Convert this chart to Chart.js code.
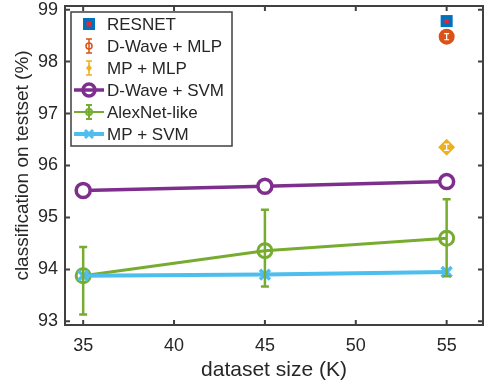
<!DOCTYPE html>
<html>
<head>
<meta charset="utf-8">
<script src="https://cdn.jsdelivr.net/npm/chart.js@4"></script>
<style>
  html, body { margin: 0; padding: 0; background: #fff; }
  #wrap { width: 484px; height: 383px; }
</style>
</head>
<body>
<div id="wrap"><canvas id="c" width="484" height="383"></canvas></div>
<script>
// dataset sizes (K)
const sizes = [35, 45, 55];
const xTicks = [35, 40, 45, 50, 55];
const yTicks = [93, 94, 95, 96, 97, 98, 99];

// single points at 55K
const resnet = [98.78];
const dwaveMlp = [98.48];
const dwaveMlpErr = [0.06];
const mpMlp = [96.35];
const mpMlpErr = [0.06];

// lines
const dwaveSvm = [95.52, 95.60, 95.69];
const alexNet = [93.88, 94.36, 94.60];
const alexLow = [93.13, 93.67, 93.87];
const alexHigh = [94.43, 95.15, 95.35];
const mpSvm = [93.88, 93.90, 93.95];

const FONT = "'Liberation Sans', Arial, Helvetica, sans-serif";
const TXT = '#262626';
const C = {
  resnet: '#0072BD', red: '#E8262B', orange: '#D95319', yellow: '#EDB120',
  purple: '#7E2F8E', green: '#77AC30', blue: '#4DBEEE'
};

const pts = (xs, ys) => ys.map((y, i) => ({ x: xs[i], y: y }));

// error bars drawn on top of the datasets
const errBars = [
  { ds: 4, low: alexLow, high: alexHigh, color: C.green, lw: 2.5, cap: 4 },
  { ds: 2, low: dwaveMlp.map((v, i) => v - dwaveMlpErr[i]), high: dwaveMlp.map((v, i) => v + dwaveMlpErr[i]), color: '#fff', lw: 1.2, cap: 2.5 },
  { ds: 3, low: mpMlp.map((v, i) => v - mpMlpErr[i]), high: mpMlp.map((v, i) => v + mpMlpErr[i]), color: '#fff', lw: 1.2, cap: 2.5 }
];

const errorBarPlugin = {
  id: 'errorBars',
  afterDatasetsDraw(chart) {
    const ctx = chart.ctx, xs = chart.scales.x, ys = chart.scales.y;
    errBars.forEach(e => {
      const data = chart.data.datasets[e.ds].data;
      ctx.save();
      ctx.strokeStyle = e.color;
      ctx.lineWidth = e.lw;
      data.forEach((p, i) => {
        const px = xs.getPixelForValue(p.x);
        const y0 = ys.getPixelForValue(e.low[i]);
        const y1 = ys.getPixelForValue(e.high[i]);
        ctx.beginPath();
        ctx.moveTo(px, y0); ctx.lineTo(px, y1);
        ctx.moveTo(px - e.cap, y0); ctx.lineTo(px + e.cap, y0);
        ctx.moveTo(px - e.cap, y1); ctx.lineTo(px + e.cap, y1);
        ctx.stroke();
      });
      ctx.restore();
    });
  }
};

// box + inward ticks, MATLAB style
const boxPlugin = {
  id: 'box',
  afterDraw(chart) {
    const ctx = chart.ctx, a = chart.chartArea, xs = chart.scales.x, ys = chart.scales.y;
    ctx.save();
    ctx.strokeStyle = '#404040';
    ctx.lineWidth = 2;
    ctx.strokeRect(a.left, a.top, a.right - a.left, a.bottom - a.top);
    ctx.beginPath();
    xTicks.forEach(v => {
      const px = xs.getPixelForValue(v);
      ctx.moveTo(px, a.bottom); ctx.lineTo(px, a.bottom - 5);
      ctx.moveTo(px, a.top); ctx.lineTo(px, a.top + 5);
    });
    yTicks.forEach(v => {
      const py = ys.getPixelForValue(v);
      ctx.moveTo(a.left, py); ctx.lineTo(a.left + 5, py);
      ctx.moveTo(a.right, py); ctx.lineTo(a.right - 5, py);
    });
    ctx.stroke();
    ctx.restore();
    drawLegend(ctx);
  }
};

function drawLegend(ctx) {
  const L = 71, T = 12, W = 161, H = 134;
  ctx.save();
  ctx.fillStyle = '#fff';
  ctx.fillRect(L, T, W, H);
  ctx.strokeStyle = '#404040';
  ctx.lineWidth = 1.5;
  ctx.strokeRect(L, T, W, H);
  const rows = [
    { label: 'RESNET', y: 24 },
    { label: 'D-Wave + MLP', y: 46 },
    { label: 'MP + MLP', y: 68 },
    { label: 'D-Wave + SVM', y: 90 },
    { label: 'AlexNet-like', y: 112 },
    { label: 'MP + SVM', y: 134 }
  ];
  const cx = 89;
  ctx.font = '17px ' + FONT;
  ctx.textBaseline = 'middle';
  ctx.fillStyle = TXT;
  rows.forEach(r => ctx.fillText(r.label, 107, r.y + 1));
  // RESNET
  let y = rows[0].y;
  ctx.fillStyle = C.resnet; ctx.fillRect(cx - 6, y - 6, 12, 12);
  ctx.fillStyle = C.red; ctx.fillRect(cx - 2.5, y - 2.5, 5, 5);
  // D-Wave + MLP
  y = rows[1].y;
  ctx.strokeStyle = C.orange; ctx.lineWidth = 1.5;
  ctx.beginPath();
  ctx.moveTo(cx, y - 7); ctx.lineTo(cx, y + 7);
  ctx.moveTo(cx - 3, y - 7); ctx.lineTo(cx + 3, y - 7);
  ctx.moveTo(cx - 3, y + 7); ctx.lineTo(cx + 3, y + 7);
  ctx.stroke();
  ctx.beginPath(); ctx.arc(cx, y, 3, 0, Math.PI * 2); ctx.stroke();
  // MP + MLP
  y = rows[2].y;
  ctx.strokeStyle = C.yellow;
  ctx.beginPath();
  ctx.moveTo(cx, y - 7); ctx.lineTo(cx, y + 7);
  ctx.moveTo(cx - 3, y - 7); ctx.lineTo(cx + 3, y - 7);
  ctx.moveTo(cx - 3, y + 7); ctx.lineTo(cx + 3, y + 7);
  ctx.stroke();
  ctx.fillStyle = C.yellow;
  ctx.beginPath(); ctx.moveTo(cx, y - 3.5); ctx.lineTo(cx + 3, y); ctx.lineTo(cx, y + 3.5); ctx.lineTo(cx - 3, y); ctx.closePath(); ctx.fill();
  // D-Wave + SVM
  y = rows[3].y;
  ctx.strokeStyle = C.purple; ctx.lineWidth = 3.5;
  ctx.beginPath(); ctx.moveTo(74, y); ctx.lineTo(104, y); ctx.stroke();
  ctx.fillStyle = '#fff';
  ctx.beginPath(); ctx.arc(cx, y, 6, 0, Math.PI * 2); ctx.fill(); ctx.stroke();
  ctx.beginPath(); ctx.moveTo(cx - 6, y); ctx.lineTo(cx + 6, y); ctx.stroke();
  // AlexNet-like
  y = rows[4].y;
  ctx.strokeStyle = C.green; ctx.lineWidth = 2;
  ctx.beginPath(); ctx.moveTo(74, y); ctx.lineTo(104, y);
  ctx.moveTo(cx, y - 7); ctx.lineTo(cx, y + 7);
  ctx.moveTo(cx - 3, y - 7); ctx.lineTo(cx + 3, y - 7);
  ctx.moveTo(cx - 3, y + 7); ctx.lineTo(cx + 3, y + 7);
  ctx.stroke();
  ctx.beginPath(); ctx.arc(cx, y, 3, 0, Math.PI * 2); ctx.stroke();
  // MP + SVM
  y = rows[5].y;
  ctx.strokeStyle = C.blue; ctx.lineWidth = 4;
  ctx.beginPath(); ctx.moveTo(74, y); ctx.lineTo(104, y); ctx.stroke();
  ctx.lineWidth = 3;
  ctx.beginPath();
  ctx.moveTo(cx - 4, y - 4); ctx.lineTo(cx + 4, y + 4);
  ctx.moveTo(cx - 4, y + 4); ctx.lineTo(cx + 4, y - 4);
  ctx.stroke();
  ctx.restore();
}

const lastX = [sizes[sizes.length - 1]];

new Chart(document.getElementById('c'), {
  type: 'line',
  data: {
    datasets: [
      { label: 'RESNET', data: pts(lastX, resnet), showLine: false, pointStyle: 'rect', pointRadius: 8.5,
        backgroundColor: C.resnet, borderColor: C.resnet, borderWidth: 0, order: 1 },
      { label: 'RESNET inner', data: pts(lastX, resnet), showLine: false, pointStyle: 'rect', pointRadius: 3,
        backgroundColor: C.red, borderColor: C.red, borderWidth: 0, order: 0 },
      { label: 'D-Wave + MLP', data: pts(lastX, dwaveMlp), showLine: false, pointStyle: 'circle', pointRadius: 6.5,
        backgroundColor: C.orange, borderColor: C.orange, borderWidth: 3, order: 2 },
      { label: 'MP + MLP', data: pts(lastX, mpMlp), showLine: false, pointStyle: 'rectRot', pointRadius: 8.5,
        backgroundColor: C.yellow, borderColor: C.yellow, borderWidth: 0, order: 3 },
      { label: 'AlexNet-like', data: pts(sizes, alexNet), borderColor: C.green, borderWidth: 3,
        pointStyle: 'circle', pointRadius: 7, pointBorderWidth: 3, pointBackgroundColor: 'rgba(0,0,0,0)',
        pointBorderColor: C.green, order: 6 },
      { label: 'D-Wave + SVM', data: pts(sizes, dwaveSvm), borderColor: C.purple, borderWidth: 3.5,
        pointStyle: 'circle', pointRadius: 7, pointBorderWidth: 3.5, pointBackgroundColor: '#fff',
        pointBorderColor: C.purple, order: 5 },
      { label: 'MP + SVM', data: pts(sizes, mpSvm), borderColor: C.blue, borderWidth: 4,
        pointStyle: 'crossRot', pointRadius: 7, pointBorderWidth: 3.5, pointBorderColor: C.blue, order: 4 }
    ]
  },
  options: {
    responsive: false,
    animation: false,
    // autoPadding would reserve room for the point markers
    layout: { autoPadding: false, padding: { top: 6, right: 1, left: 0, bottom: 0 } },
    plugins: { legend: { display: false }, tooltip: { enabled: false } },
    scales: {
      x: {
        type: 'linear', min: 34, max: 57,
        afterBuildTicks: s => { s.ticks = xTicks.map(v => ({ value: v })); },
        afterFit: s => { s.height = 58; s.paddingLeft = 0; s.paddingRight = 0; },
        grid: { display: false, drawTicks: false },
        border: { display: false },
        ticks: { color: TXT, font: { family: FONT, size: 18 }, padding: 10, maxRotation: 0 },
        title: { display: true, text: 'dataset size (K)', color: TXT, font: { family: FONT, size: 21 }, padding: { top: 2, bottom: 0 } }
      },
      y: {
        type: 'linear', min: 92.93, max: 99.07,
        afterBuildTicks: s => { s.ticks = yTicks.map(v => ({ value: v })); },
        afterFit: s => { s.width = 65; s.paddingTop = 0; s.paddingBottom = 0; },
        grid: { display: false, drawTicks: false },
        border: { display: false },
        ticks: { color: TXT, font: { family: FONT, size: 18 }, padding: 7 },
        title: { display: true, text: 'classification on testset (%)', color: TXT, font: { family: FONT, size: 19 }, padding: { top: 11, bottom: 0 } }
      }
    }
  },
  plugins: [errorBarPlugin, boxPlugin]
});
</script>
</body>
</html>
